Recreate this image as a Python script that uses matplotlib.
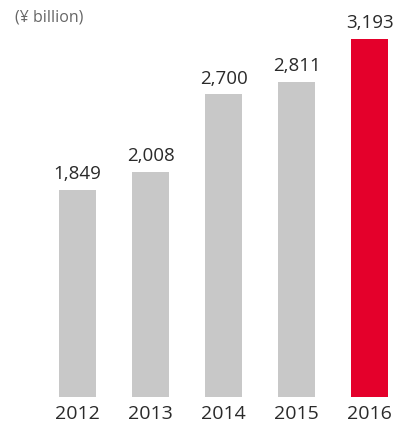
import numpy as np
import matplotlib
matplotlib.use("Agg")
import matplotlib.pyplot as plt

years = ["2012", "2013", "2014", "2015", "2016"]
values = [1849, 2008, 2700, 2811, 3193]
colors = ["#c8c8c8", "#c8c8c8", "#c8c8c8", "#c8c8c8", "#e4002b"]

plt.rcParams['font.family'] = ['Open Sans', 'DejaVu Sans']

fig = plt.figure(figsize=(3.96, 4.26), dpi=100)
ax = fig.add_axes([0, 0, 1, 1])
x = np.arange(len(years))
ax.bar(x, values, width=0.5, color=colors)

for xi, v in zip(x, values):
    ax.text(xi, v + 60, f"{v:,}", ha="center", va="bottom", fontsize=13.5, color="#2a2a2a")
    ax.text(xi, -152, years[xi], ha="center", va="center", fontsize=14, color="#2a2a2a")

fig.text(15 / 396, 1 - 17 / 426, "(¥ billion)", ha="left", va="center", fontsize=11.5, color="#666666")

ax.set_xlim(-1.062, 4.363)
ax.set_ylim(-259, 3541)
ax.axis("off")

fig.savefig("out.png", dpi=100)
